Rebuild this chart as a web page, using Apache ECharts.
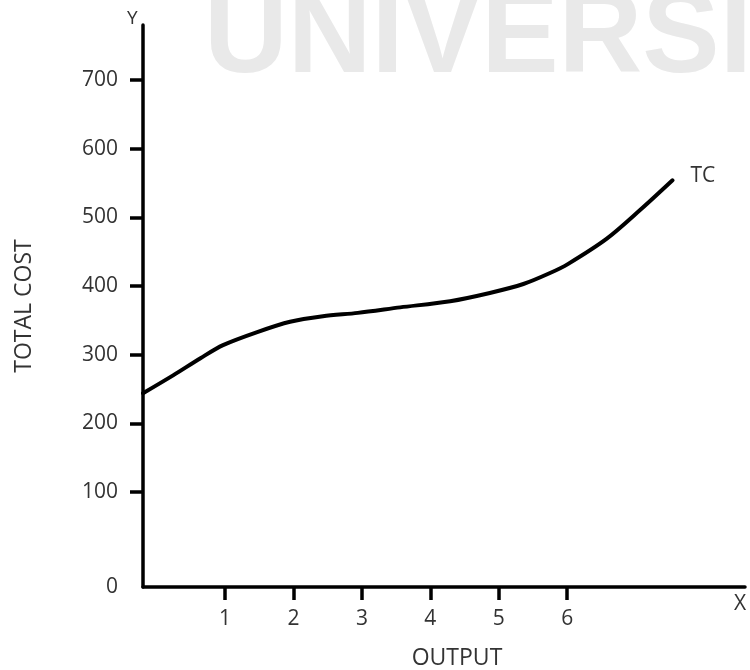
<!DOCTYPE html>
<html lang="en">
<head>
<meta charset="UTF-8">
<title>Total cost curve</title>
<script src="https://cdn.jsdelivr.net/npm/echarts@6/dist/echarts.min.js"></script>
<style>
    html, body { margin: 0; background: #fff; }
    #chart { width: 750px; height: 670px; }
</style>
</head>
<body>
<div id="chart"></div>
<script>
// TC curve (output -> total cost)
var output    = [-0.2, 0.24, 0.64, 0.97, 1.47, 1.95, 2.43, 2.94, 3.56, 4.29, 4.87, 5.36, 5.75, 6.01, 6.58, 7.07, 7.54];
var totalCost = [244, 270, 295, 314, 333, 348, 356, 361, 369, 378, 390, 403, 419, 432, 469, 511, 554];

// tick labels
var xTicks = [1, 2, 3, 4, 5, 6];
var yTicks = [0, 100, 200, 300, 400, 500, 600, 700];

// the drawing puts "0" at the corner, below the even 100-steps
var yMin = -38;

var txt = '#333';
var lineW = 3.5;

var chart = echarts.init(document.getElementById('chart'));
chart.setOption({
    animation: false,
    grid: { left: 143, right: 5, top: 25, bottom: 83, outerBoundsMode: 'none' },
    xAxis: {
        type: 'value',
        min: -0.2,
        max: 8.6,
        name: 'OUTPUT',
        nameLocation: 'middle',
        nameGap: 60,
        nameTextStyle: { color: txt, fontSize: 23, fontFamily: 'Open Sans', padding: [0, 0, 0, 26] },
        axisLine: { onZero: false, lineStyle: { color: '#000', width: lineW } },
        axisTick: { show: true, customValues: xTicks, length: 13, lineStyle: { color: '#000', width: lineW } },
        axisLabel: { customValues: xTicks, margin: 22, color: txt, fontSize: 21, fontFamily: 'Open Sans' },
        splitLine: { show: false }
    },
    yAxis: {
        type: 'value',
        min: yMin,
        max: 780,
        name: 'TOTAL COST',
        nameLocation: 'middle',
        nameRotate: 90,
        nameGap: 107,
        nameTextStyle: { color: txt, fontSize: 23, fontFamily: 'Open Sans' },
        axisLine: { show: true, onZero: false, lineStyle: { color: '#000', width: lineW } },
        axisTick: {
            show: true,
            customValues: yTicks.filter(function (v) { return v > 0; }),
            length: 13,
            lineStyle: { color: '#000', width: lineW }
        },
        axisLabel: {
            customValues: yTicks.map(function (v) { return v === 0 ? yMin : v; }),
            formatter: function (v) { return v === yMin ? '0' : String(v); },
            margin: 25,
            color: txt,
            fontSize: 21,
            fontFamily: 'Open Sans'
        },
        splitLine: { show: false }
    },
    graphic: [
        {   // faint watermark at the top
            type: 'text', z: -10, left: 204, top: -18,
            style: { text: 'UNIVERSI', fill: '#e9e9e9', font: 'bold 116px "Liberation Sans"' }
        },
        {
            type: 'text', left: 127, top: 9,
            style: { text: 'Y', fill: txt, font: '19px "Open Sans"' }
        },
        {
            type: 'text', left: 734, top: 594,
            style: { text: 'X', fill: txt, font: '21px "Open Sans"' }
        }
    ],
    series: [{
        name: 'TC',
        type: 'line',
        smooth: 0.3,
        symbol: 'none',
        data: output.map(function (x, i) { return [x, totalCost[i]]; }),
        lineStyle: { color: '#000', width: 4, cap: 'round' },
        endLabel: {
            show: true,
            formatter: 'TC',
            distance: 18,
            offset: [0, -4],
            color: txt,
            fontSize: 21,
            fontFamily: 'Open Sans'
        }
    }]
});
</script>
</body>
</html>
